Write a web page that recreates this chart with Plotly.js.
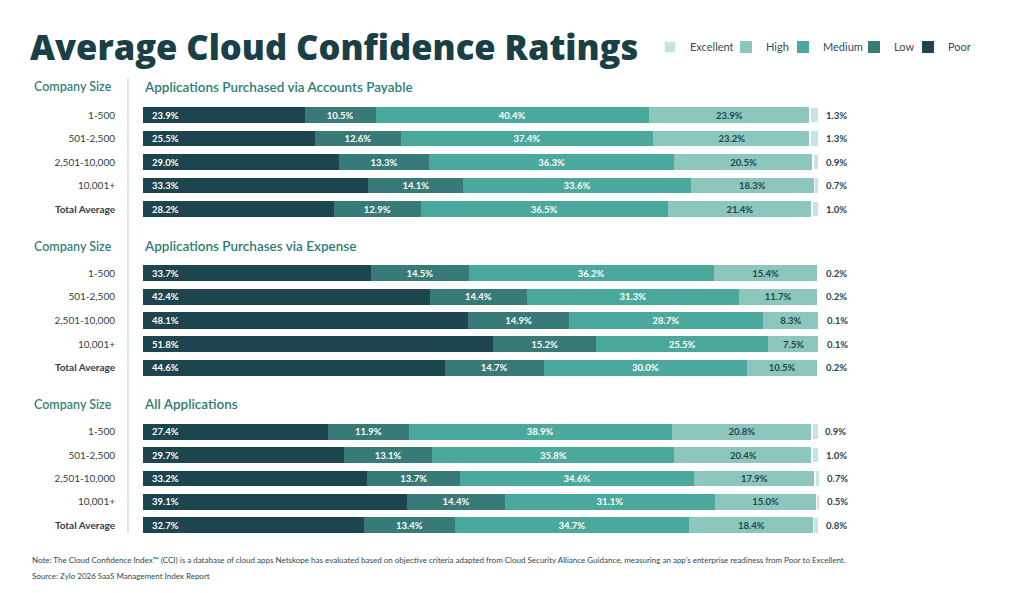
<!DOCTYPE html>
<html>
<head>
<meta charset="utf-8">
<script src="https://cdn.plot.ly/plotly-3.0.1.min.js"></script>
<style>html,body{margin:0;padding:0;background:#fff}#chart{width:1024px;height:593px}</style>
</head>
<body>
<div id="chart"></div>
<script>
const categories = ['1-500','501-2,500','2,501-10,000','10,001+','Total Average'];
const tickLabels = ['1-500','501-2,500','2,501-10,000','10,001+','<b>Total Average</b>'];
const ratings = ['Poor','Low','Medium','High','Excellent'];
const panelTitles = ['Applications Purchased via Accounts Payable','Applications Purchases via Expense','All Applications'];

const ap_poor = [23.9,25.5,29.0,33.3,28.2];
const ap_low = [10.5,12.6,13.3,14.1,12.9];
const ap_medium = [40.4,37.4,36.3,33.6,36.5];
const ap_high = [23.9,23.2,20.5,18.3,21.4];
const ap_excellent = [1.3,1.3,0.9,0.7,1.0];

const ex_poor = [33.7,42.4,48.1,51.8,44.6];
const ex_low = [14.5,14.4,14.9,15.2,14.7];
const ex_medium = [36.2,31.3,28.7,25.5,30.0];
const ex_high = [15.4,11.7,8.3,7.5,10.5];
const ex_excellent = [0.2,0.2,0.1,0.1,0.2];

const all_poor = [27.4,29.7,33.2,39.1,32.7];
const all_low = [11.9,13.1,13.7,14.4,13.4];
const all_medium = [38.9,35.8,34.6,31.1,34.7];
const all_high = [20.8,20.4,17.9,15.0,18.4];
const all_excellent = [0.9,1.0,0.7,0.5,0.8];

const panels = [
  [ap_poor, ap_low, ap_medium, ap_high, ap_excellent],
  [ex_poor, ex_low, ex_medium, ex_high, ex_excellent],
  [all_poor, all_low, all_medium, all_high, all_excellent]
];

const colors = {Poor:'#1d4550', Low:'#377a77', Medium:'#4ba89c', High:'#8dc6bc', Excellent:'#c5e5e2'};
const textColors = {Poor:'#ffffff', Low:'#ffffff', Medium:'#ffffff', High:'#1d4550', Excellent:'#1d4550'};
const FONT = 'Lato, "Open Sans", sans-serif';
const TITLE_FONT = '"Open Sans", Lato, sans-serif';

const W = 1024, H = 593;
const X0 = 143, PX_PER_UNIT = 6.76, XMAX = 104;
const yDomPx = [[103.25,220.75],[261.25,379.75],[420.0,537.0]];
const headerPx = [87, 246, 404];
// legend text positions (px)
const legendTextPx = {Excellent:690, High:766, Medium:823, Low:894, Poor:948};
const legendIds = {Excellent:'legend', High:'legend2', Medium:'legend3', Low:'legend4', Poor:'legend5'};

const traces = [];
const annotations = [];
panels.forEach((series, p) => {
  const sfx = p === 0 ? '' : String(p+1);
  const ya = 'y' + sfx, xa = 'x' + sfx;
  ratings.forEach((r, i) => {
    const vals = series[i];
    const inside = (r === 'Low' || r === 'Medium' || r === 'High');
    traces.push({
      type: 'bar', orientation: 'h',
      x: vals, y: categories,
      xaxis: xa, yaxis: ya,
      name: r, legendgroup: r, showlegend: p === 0, legend: legendIds[r],
      marker: {color: colors[r], line: {color: '#ffffff', width: r === 'Excellent' ? 1.5 : 0}},
      text: inside ? vals.map(v => v.toFixed(1) + '%') : undefined,
      textposition: inside ? 'inside' : 'none',
      insidetextanchor: 'middle',
      textangle: 0,
      constraintext: 'none',
      textfont: {family: FONT, size: 9.5, color: textColors[r], weight: 700},
      hoverinfo: 'skip'
    });
  });
  // Poor labels at the bar base, left aligned
  series[0].forEach((v, k) => {
    annotations.push({
      xref: xa, yref: ya, x: 0, y: categories[k], xanchor: 'left', yanchor: 'middle',
      xshift: 7, showarrow: false, text: v.toFixed(1) + '%',
      font: {family: FONT, size: 9.5, color: '#ffffff', weight: 700}
    });
  });
  // Excellent labels right of the stack end
  series[4].forEach((v, k) => {
    const total = series.reduce((s, arr) => s + arr[k], 0);
    annotations.push({
      xref: xa, yref: ya, x: total, y: categories[k], xanchor: 'left', yanchor: 'middle',
      xshift: 5, showarrow: false, text: v.toFixed(1) + '%',
      font: {family: FONT, size: 9.5, color: '#1d4550', weight: 700}
    });
  });
});

const layout = {
  width: W, height: H,
  margin: {l:0, r:0, t:0, b:0, autoexpand: false},
  paper_bgcolor: '#ffffff', plot_bgcolor: '#ffffff',
  barmode: 'stack', bargap: 0.32,
  font: {family: FONT, color: '#2f3f44'},
  showlegend: true,
  annotations: annotations,
  shapes: [{
    type: 'line', xref: 'paper', yref: 'paper',
    x0: 128/W, x1: 128/W, y0: 1 - 78/H, y1: 1 - 533/H,
    line: {color: '#d3dcdd', width: 1.5}
  }]
};

ratings.forEach(r => {
  layout[legendIds[r]] = {
    orientation: 'h',
    x: (legendTextPx[r] - 40) / W, xanchor: 'left', y: 1 - 47/H, yanchor: 'middle',
    font: {family: FONT, size: 11, color: '#3d4b50'},
    bgcolor: 'rgba(0,0,0,0)', borderwidth: 0,
    itemclick: false, itemdoubleclick: false
  };
});

for (let p = 0; p < 3; p++) {
  const sfx = p === 0 ? '' : String(p+1);
  layout['xaxis' + sfx] = {
    domain: [X0/W, (X0 + PX_PER_UNIT*XMAX)/W], range: [0, XMAX], anchor: 'y' + sfx,
    showgrid: false, zeroline: false, showticklabels: false, showline: false, fixedrange: true
  };
  layout['yaxis' + sfx] = {
    domain: [1 - yDomPx[p][1]/H, 1 - yDomPx[p][0]/H], anchor: 'x' + sfx,
    type: 'category', categoryorder: 'array', categoryarray: categories,
    tickvals: categories, ticktext: tickLabels,
    autorange: 'reversed', showgrid: false, zeroline: false, showline: false,
    ticks: '', ticklabelstandoff: 27, automargin: false,
    tickfont: {family: FONT, size: 10, color: '#2f3f44'}, fixedrange: true
  };
  annotations.push({
    xref: 'paper', yref: 'paper', x: 114/W, y: 1 - headerPx[p]/H,
    xanchor: 'right', yanchor: 'middle', showarrow: false,
    text: 'Company Size', font: {family: FONT, size: 12.5, color: '#3b7f7a', weight: 600}
  });
  annotations.push({
    xref: 'paper', yref: 'paper', x: 142/W, y: 1 - headerPx[p]/H,
    xanchor: 'left', yanchor: 'middle', showarrow: false,
    text: panelTitles[p], font: {family: FONT, size: 13.5, color: '#2f7b76', weight: 600}
  });
}

annotations.push({
  xref: 'paper', yref: 'paper', x: 28/W, y: 1 - 47/H, xanchor: 'left', yanchor: 'middle',
  showarrow: false, text: 'Average Cloud Confidence Ratings',
  font: {family: TITLE_FONT, size: 34.5, color: '#1b3f47', weight: 800}
});
annotations.push({
  xref: 'paper', yref: 'paper', x: 30/W, y: 1 - 560/H, xanchor: 'left', yanchor: 'middle',
  showarrow: false,
  text: 'Note: The Cloud Confidence Index\u2122 (CCI) is a database of cloud apps Netskope has evaluated based on objective criteria adapted from Cloud Security Alliance Guidance, measuring an app\u2019s enterprise readiness from Poor to Excellent.',
  font: {family: FONT, size: 8, color: '#2c4a50'}
});
annotations.push({
  xref: 'paper', yref: 'paper', x: 30/W, y: 1 - 576/H, xanchor: 'left', yanchor: 'middle',
  showarrow: false, text: 'Source: Zylo 2026 SaaS Management Index Report',
  font: {family: FONT, size: 8, color: '#2c4a50'}
});

Plotly.newPlot('chart', traces, layout, {displayModeBar: false, staticPlot: true});
</script>
</body>
</html>
